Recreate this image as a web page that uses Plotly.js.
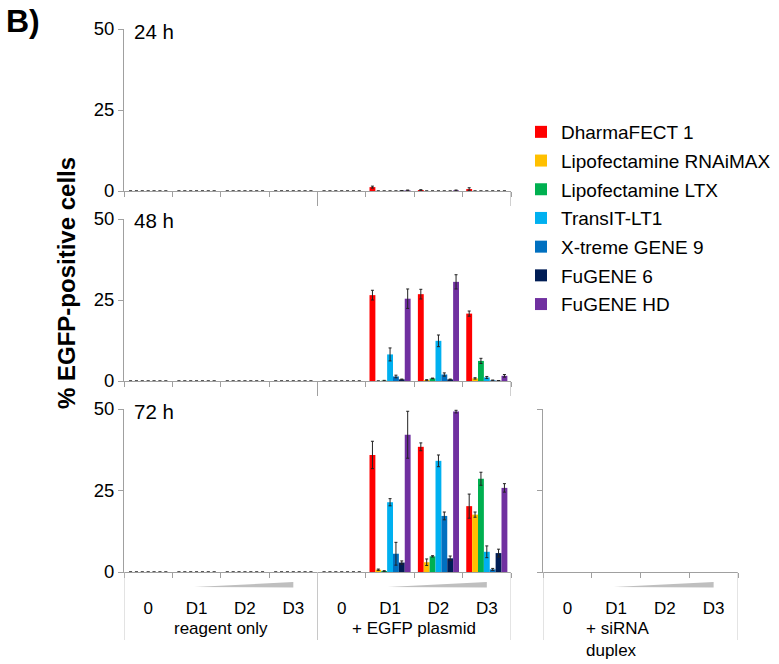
<!DOCTYPE html>
<html>
<head>
<meta charset="utf-8">
<script src="https://cdn.plot.ly/plotly-3.0.1.min.js"></script>
<style>
    body { margin: 0; background: #fff; }
    #chart { width: 779px; height: 664px; }
</style>
</head>
<body>
<div id="chart"></div>
<script>
// Categories: reagent only (0, D1-D3) and + EGFP plasmid (0, D1-D3)
let dose_labels = ["0", "D1", "D2", "D3", "0", "D1", "D2", "D3"];
let sirna_labels = ["0", "D1", "D2", "D3"];
let group_labels = ["reagent only", "+ EGFP plasmid"];
let sirna_group_label = "+ siRNA<br>duplex";
let time_labels = ["24 h", "48 h", "72 h"];

let reagents = ["DharmaFECT 1", "Lipofectamine RNAiMAX", "Lipofectamine LTX", "TransIT-LT1",
                "X-treme GENE 9", "FuGENE 6", "FuGENE HD"];
let reagent_colors = ["#ff0000", "#ffc000", "#00b050", "#00b0f0", "#0070c0", "#001d55", "#7030a0"];

// % EGFP-positive cells, one row per reagent
let values_24h = [
    [0, 0, 0, 0, 0, 1.2, 0.3, 0.6],
    [0, 0, 0, 0, 0, 0, 0, 0],
    [0, 0, 0, 0, 0, 0, 0, 0],
    [0, 0, 0, 0, 0, 0, 0, 0],
    [0, 0, 0, 0, 0, 0, 0, 0],
    [0, 0, 0, 0, 0, 0.1, 0, 0],
    [0, 0, 0, 0, 0, 0.2, 0.2, 0],
];
let errors_24h = [
    [0, 0, 0, 0, 0, 0.3, 0.1, 0.4],
    [0, 0, 0, 0, 0, 0, 0, 0],
    [0, 0, 0, 0, 0, 0, 0, 0],
    [0, 0, 0, 0, 0, 0, 0, 0],
    [0, 0, 0, 0, 0, 0, 0, 0],
    [0, 0, 0, 0, 0, 0, 0, 0],
    [0, 0, 0, 0, 0, 0.1, 0.1, 0],
];

let values_48h = [
    [0, 0, 0, 0, 0, 26.5, 26.8, 20.8],
    [0, 0, 0, 0, 0, 0, 0.3, 0.8],
    [0, 0, 0, 0, 0, 0.1, 0.8, 6.2],
    [0, 0, 0, 0, 0, 8.2, 12.4, 1.1],
    [0, 0, 0, 0, 0, 1.4, 2.0, 0.2],
    [0, 0, 0, 0, 0, 0.5, 0.5, 0.1],
    [0, 0, 0, 0, 0, 25.4, 30.6, 1.6],
];
let errors_48h = [
    [0, 0, 0, 0, 0, 1.5, 1.5, 0.8],
    [0, 0, 0, 0, 0, 0, 0.1, 0.2],
    [0, 0, 0, 0, 0, 0.1, 0.1, 0.8],
    [0, 0, 0, 0, 0, 2.0, 1.8, 0.3],
    [0, 0, 0, 0, 0, 0.4, 0.5, 0.1],
    [0, 0, 0, 0, 0, 0.1, 0.1, 0],
    [0, 0, 0, 0, 0, 3.0, 2.2, 0.4],
];

let values_72h = [
    [0, 0, 0, 0, 0, 35.9, 38.4, 20.2],
    [0, 0, 0, 0, 0, 0.7, 3.0, 17.6],
    [0, 0, 0, 0, 0, 0.3, 4.8, 28.6],
    [0, 0, 0, 0, 0, 21.4, 34.1, 6.2],
    [0, 0, 0, 0, 0, 5.6, 17.2, 0.8],
    [0, 0, 0, 0, 0, 2.9, 4.2, 5.8],
    [0, 0, 0, 0, 0, 42.1, 49.2, 25.8],
];
let errors_72h = [
    [0, 0, 0, 0, 0, 4.2, 1.2, 3.7],
    [0, 0, 0, 0, 0, 0.2, 1.0, 0.8],
    [0, 0, 0, 0, 0, 0.1, 0.2, 2.0],
    [0, 0, 0, 0, 0, 1.1, 1.8, 1.8],
    [0, 0, 0, 0, 0, 3.5, 1.2, 0.3],
    [0, 0, 0, 0, 0, 0.5, 0.7, 1.2],
    [0, 0, 0, 0, 0, 7.2, 0.4, 1.3],
];

// + siRNA duplex, 72 h only
let values_sirna = [
    [0, 0, 0, 0], [0, 0, 0, 0], [0, 0, 0, 0], [0, 0, 0, 0], [0, 0, 0, 0], [0, 0, 0, 0], [0, 0, 0, 0],
];

let W = 779, H = 664;
let fx = v => v / W;      // pixel -> paper
let fy = v => 1 - v / H;
let axis_color = "#a0a0a0";
let sep_color = "#c8c8c8";
let font = "Arial, 'Liberation Sans', sans-serif";

// panel pixel boxes (top, bottom of the 0-50 range)
let panels = [[29, 191], [219, 381], [409, 572]];
let main_x = [124, 511], sirna_x = [543, 738];

function bar_traces(values, errors, xaxis, yaxis, x, show_legend)
{
    return reagents.map((name, i) => ({
        type: "bar",
        name: name,
        x: x,
        y: values[i],
        xaxis: xaxis,
        yaxis: yaxis,
        marker: { color: reagent_colors[i] },
        error_y: errors ? { type: "data", array: errors[i], color: "#222", thickness: 1, width: 1.5 } : undefined,
        legendgroup: name,
        showlegend: show_legend,
        hoverinfo: "skip",
    }));
}

function x_axis(px_range, labels, anchor)
{
    return {
        domain: [fx(px_range[0]), fx(px_range[1])],
        anchor: anchor,
        range: [-0.5, labels.length - 0.5],
        showline: true, linecolor: axis_color, linewidth: 1,
        showgrid: false, zeroline: false, fixedrange: true,
        tickmode: "array",
        tickvals: labels.map((_, i) => i),
        ticktext: labels,
        ticks: "",
        ticklabelstandoff: 21,
        tickfont: { family: font, size: 17, color: "#000" },
        minor: { tickmode: "linear", tick0: -0.5, dtick: 1, ticks: "outside", ticklen: 5,
                 tickcolor: axis_color, tickwidth: 1, showgrid: false },
    };
}

function y_axis(panel, anchor, show_labels)
{
    return {
        domain: [fy(panel[1]), fy(panel[0])],
        anchor: anchor,
        range: [0, 50],
        tickvals: [0, 25, 50],
        showticklabels: show_labels,
        ticks: "outside", ticklen: 5, tickcolor: axis_color,
        showline: true, linecolor: axis_color, linewidth: 1,
        showgrid: false, zeroline: false, fixedrange: true,
        tickfont: { family: font, size: 18.5, color: "#000" },
    };
}

let x_main = dose_labels.map((_, i) => i);
let x_sirna = sirna_labels.map((_, i) => i);

let traces = [].concat(
    bar_traces(values_24h, errors_24h, "x", "y", x_main, false),
    bar_traces(values_48h, errors_48h, "x2", "y2", x_main, false),
    bar_traces(values_72h, errors_72h, "x3", "y3", x_main, true),
    bar_traces(values_sirna, null, "x4", "y4", x_sirna, false),
);

let layout = {
    width: W, height: H,
    margin: { l: 0, r: 0, t: 0, b: 0 },
    paper_bgcolor: "#fff", plot_bgcolor: "rgba(0,0,0,0)",
    font: { family: font, color: "#000" },
    barmode: "group", bargap: 0.15, bargroupgap: 0,
    showlegend: true,
    legend: {
        x: fx(521), y: fy(113), xanchor: "left", yanchor: "top",
        font: { family: font, size: 19, color: "#000" },
        traceorder: "grouped", tracegroupgap: 1,
        itemclick: false, itemdoubleclick: false,
    },
    xaxis: Object.assign(x_axis(main_x, dose_labels, "y"), { showticklabels: false }),
    yaxis: y_axis(panels[0], "x", true),
    xaxis2: Object.assign(x_axis(main_x, dose_labels, "y2"), { showticklabels: false }),
    yaxis2: y_axis(panels[1], "x2", true),
    xaxis3: x_axis(main_x, dose_labels, "y3"),
    yaxis3: y_axis(panels[2], "x3", true),
    xaxis4: x_axis(sirna_x, sirna_labels, "y4"),
    yaxis4: y_axis(panels[2], "x4", false),
    shapes: [],
    annotations: [],
};

// long group ticks under the 24 h and 48 h panels
[["x", panels[0]], ["x2", panels[1]]].forEach(([xref, panel]) => {
    [3.5, 7.5].forEach(xv => layout.shapes.push({
        type: "line", xref: xref, yref: "paper", x0: xv, x1: xv,
        y0: fy(panel[1]), y1: fy(panel[1] + 15), line: { color: axis_color, width: 1 },
    }));
});

// group separators under the 72 h panel
[["x3", [-0.5, 3.5, 7.5]], ["x4", [-0.5, 3.5]]].forEach(([xref, list]) => {
    list.forEach(xv => layout.shapes.push({
        type: "line", xref: xref, yref: "paper", x0: xv, x1: xv,
        y0: fy(572), y1: fy(640), line: { color: sep_color, width: 1 },
    }));
});

// dose wedges above D1-D3
[["x3", 0], ["x3", 4], ["x4", 0]].forEach(([xref, off]) => {
    let a = off + 0.95, b = off + 3.0;
    layout.shapes.push({
        type: "path", xref: xref, yref: "paper",
        path: `M ${a},${fy(587)} L ${b},${fy(582)} L ${b},${fy(587.5)} Z`,
        fillcolor: "#bfbfbf", line: { width: 0 },
    });
});

// time labels
time_labels.forEach((text, i) => layout.annotations.push({
    text: text, xref: "paper", yref: "paper", x: fx(132), y: fy(panels[i][0] + 2),
    xanchor: "left", yanchor: "middle", showarrow: false,
    font: { family: font, size: 20.5, color: "#000" },
}));

// group labels
group_labels.forEach((text, i) => layout.annotations.push({
    text: text, xref: "x3", yref: "paper", x: i * 4 + 1.5, y: fy(628),
    xanchor: "center", yanchor: "middle", showarrow: false,
    font: { family: font, size: 17, color: "#000" },
}));
layout.annotations.push({
    text: sirna_group_label, xref: "paper", yref: "paper", x: fx(584), y: fy(617),
    xanchor: "left", yanchor: "top", align: "left", showarrow: false,
    font: { family: font, size: 17, color: "#000" },
});

// y title and panel letter
layout.annotations.push({
    text: "<b>% EGFP-positive cells</b>", xref: "paper", yref: "paper", x: fx(66), y: fy(283),
    xanchor: "center", yanchor: "middle", textangle: -90, showarrow: false,
    font: { family: font, size: 24, color: "#000" },
});
layout.annotations.push({
    text: "<b>B)</b>", xref: "paper", yref: "paper", x: fx(4), y: fy(21),
    xanchor: "left", yanchor: "middle", showarrow: false,
    font: { family: font, size: 32, color: "#000" },
});

Plotly.newPlot("chart", traces, layout, { staticPlot: true, displayModeBar: false });
</script>
</body>
</html>
